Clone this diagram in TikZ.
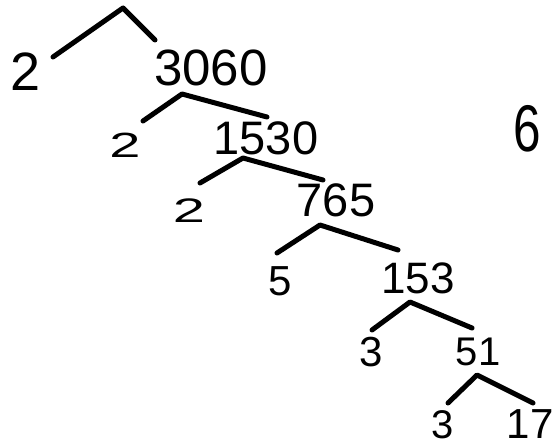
\documentclass[tikz,border=0pt]{standalone}
\usepackage{fontspec}
\setmainfont{Liberation Sans}
\begin{document}
\begin{tikzpicture}[x=1pt,y=-1pt,
  num/.style={inner sep=0pt,anchor=center,font=\fontsize{#1}{#1}\selectfont},
  branch/.style={line width=5pt,line cap=round,line join=round}]
\useasboundingbox[fill=white] (0,0) rectangle (556,446);
% numbers
\node[num=54] (twoA) at (26,72) {2};
\node[num=51] (n3060) at (211,68) {3060};
\node[num=35] (twoB) at (125,145) {\scalebox{1.6}[1]{2}};
\node[num=34] (twoC) at (189,211) {\scalebox{1.7}[1]{2}};
\node[num=47] (n1530) at (266,138) {1530};
\node[num=47] (n765) at (336,200) {765};
\node[num=42] (five) at (280,281) {5};
\node[num=44] (n153) at (418,278) {153};
\node[num=42] (threeA) at (371,352) {3};
\node[num=40] (n51) at (478,352) {51};
\node[num=40] (threeB) at (443,425) {3};
\node[num=42] (n17) at (530,424) {17};
\node[num=66] (six) at (527,129) {\scalebox{0.75}[1]{6}};
% branch points
\coordinate (t0) at (123,8);  \coordinate (tL) at (53,57);  \coordinate (tR) at (155,40);
\coordinate (a0) at (182,94); \coordinate (aL) at (143,121); \coordinate (aR) at (267,117);
\coordinate (b0) at (243,158); \coordinate (bL) at (200,183); \coordinate (bR) at (323,180);
\coordinate (c0) at (320,225); \coordinate (cL) at (277,253); \coordinate (cR) at (398,250);
\coordinate (d0) at (410,302); \coordinate (dL) at (372,330); \coordinate (dR) at (472,328);
\coordinate (e0) at (477,375); \coordinate (eL) at (448,403); \coordinate (eR) at (533,403);
\draw[branch] (tL) -- (t0) -- (tR);
\draw[branch] (aL) -- (a0) -- (aR);
\draw[branch] (bL) -- (b0) -- (bR);
\draw[branch] (cL) -- (c0) -- (cR);
\draw[branch] (dL) -- (d0) -- (dR);
\draw[branch] (eL) -- (e0) -- (eR);
\end{tikzpicture}
\end{document}
